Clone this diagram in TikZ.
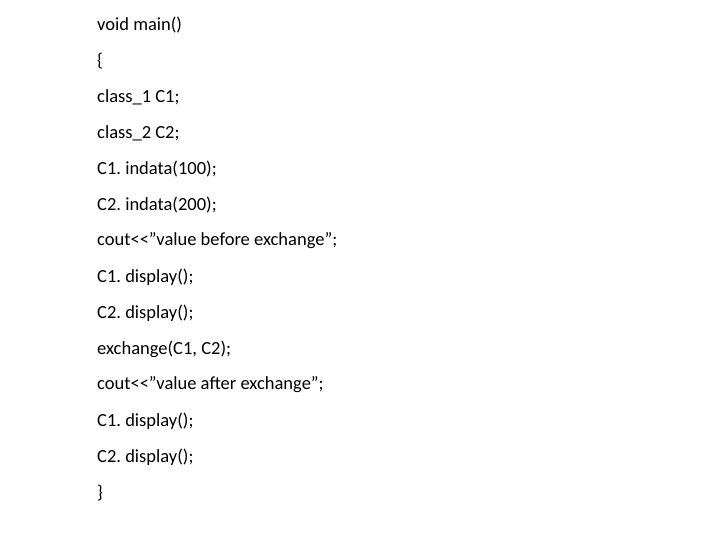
\documentclass[tikz,border=0pt]{standalone}
\usepackage{fontspec}
\setmainfont{Carlito}
\frenchspacing
\begin{document}
\begin{tikzpicture}[x=1pt,y=-1pt,line/.style={anchor=west,inner sep=0pt,font=\fontsize{18.5}{22}\selectfont}]
\useasboundingbox (0,0) rectangle (720,540);
\foreach \t [count=\i from 0] in {void main(),\{,class\_1 C1;,class\_2 C2;,C1. indata(100);,C2. indata(200);,cout{<}{<}”value before exchange”;,C1. display();,C2. display();,{exchange(C1, C2);},cout{<}{<}”value after exchange”;,C1. display();,C2. display();,\}}
  \node[line] (l\i) at (97,{25+36*\i}) {\t};
\end{tikzpicture}
\end{document}
